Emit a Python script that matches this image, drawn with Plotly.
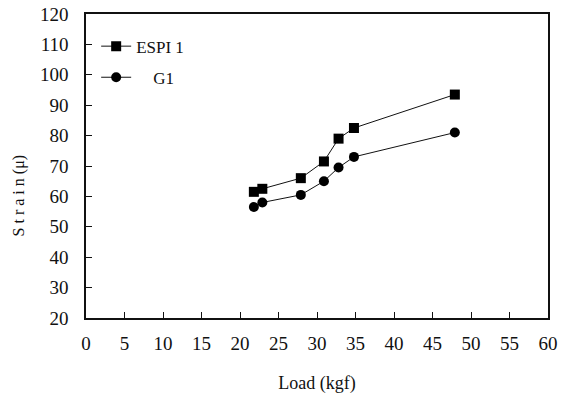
import plotly.graph_objects as go

load_espi = [21.8, 22.9, 27.9, 30.9, 32.8, 34.8, 47.9]
strain_espi = [61.5, 62.5, 66.0, 71.5, 79.0, 82.5, 93.5]
load_g1 = [21.8, 22.9, 27.9, 30.9, 32.8, 34.8, 47.9]
strain_g1 = [56.5, 58.0, 60.5, 65.0, 69.5, 73.0, 81.0]

x_ticks = list(range(0, 61, 5))
y_ticks = list(range(20, 121, 10))

FONT = "Liberation Serif, Times New Roman, serif"

fig = go.Figure()
fig.add_trace(go.Scatter(
    x=load_espi, y=strain_espi, name="ESPI 1", mode="lines+markers",
    line=dict(color="#111", width=1),
    marker=dict(symbol="square", size=10, color="#000"),
    legendgroup="a"))
fig.add_trace(go.Scatter(
    x=load_g1, y=strain_g1, name="\u00a0\u00a0\u00a0\u00a0G1", mode="lines+markers",
    line=dict(color="#111", width=1),
    marker=dict(symbol="circle", size=10, color="#000"),
    legendgroup="b"))

fig.update_layout(
    width=562, height=397,
    margin=dict(l=86, r=14, t=14, b=79),
    paper_bgcolor="white", plot_bgcolor="white",
    font=dict(family=FONT, size=19, color="#111"),
    showlegend=True,
    legend=dict(x=0.022, y=0.952, xanchor="left", yanchor="top",
                bgcolor="rgba(0,0,0,0)", tracegroupgap=6,
                itemwidth=30, font=dict(size=17)),
    xaxis=dict(range=[0, 60], tickvals=x_ticks, ticks="inside", ticklen=6,
               tickcolor="#111", showline=True, linecolor="#111", linewidth=1.5,
               mirror=True, showgrid=False, zeroline=False, automargin=False,
               ticklabelstandoff=7,
               title=dict(text="Load (kgf)", standoff=24, font=dict(size=18))),
    yaxis=dict(range=[20, 120], tickvals=y_ticks, ticks="inside", ticklen=6,
               tickcolor="#111", showline=True, linecolor="#111", linewidth=1.5,
               mirror=True, showgrid=False, zeroline=False, automargin=False,
               ticklabelstandoff=12),
    annotations=[dict(text="S t r a i n (μ)", textangle=-90, showarrow=False,
                      xref="paper", yref="paper", x=-0.145, y=0.4,
                      xanchor="center", yanchor="middle",
                      font=dict(size=16))],
)

fig.write_html("out.html")
